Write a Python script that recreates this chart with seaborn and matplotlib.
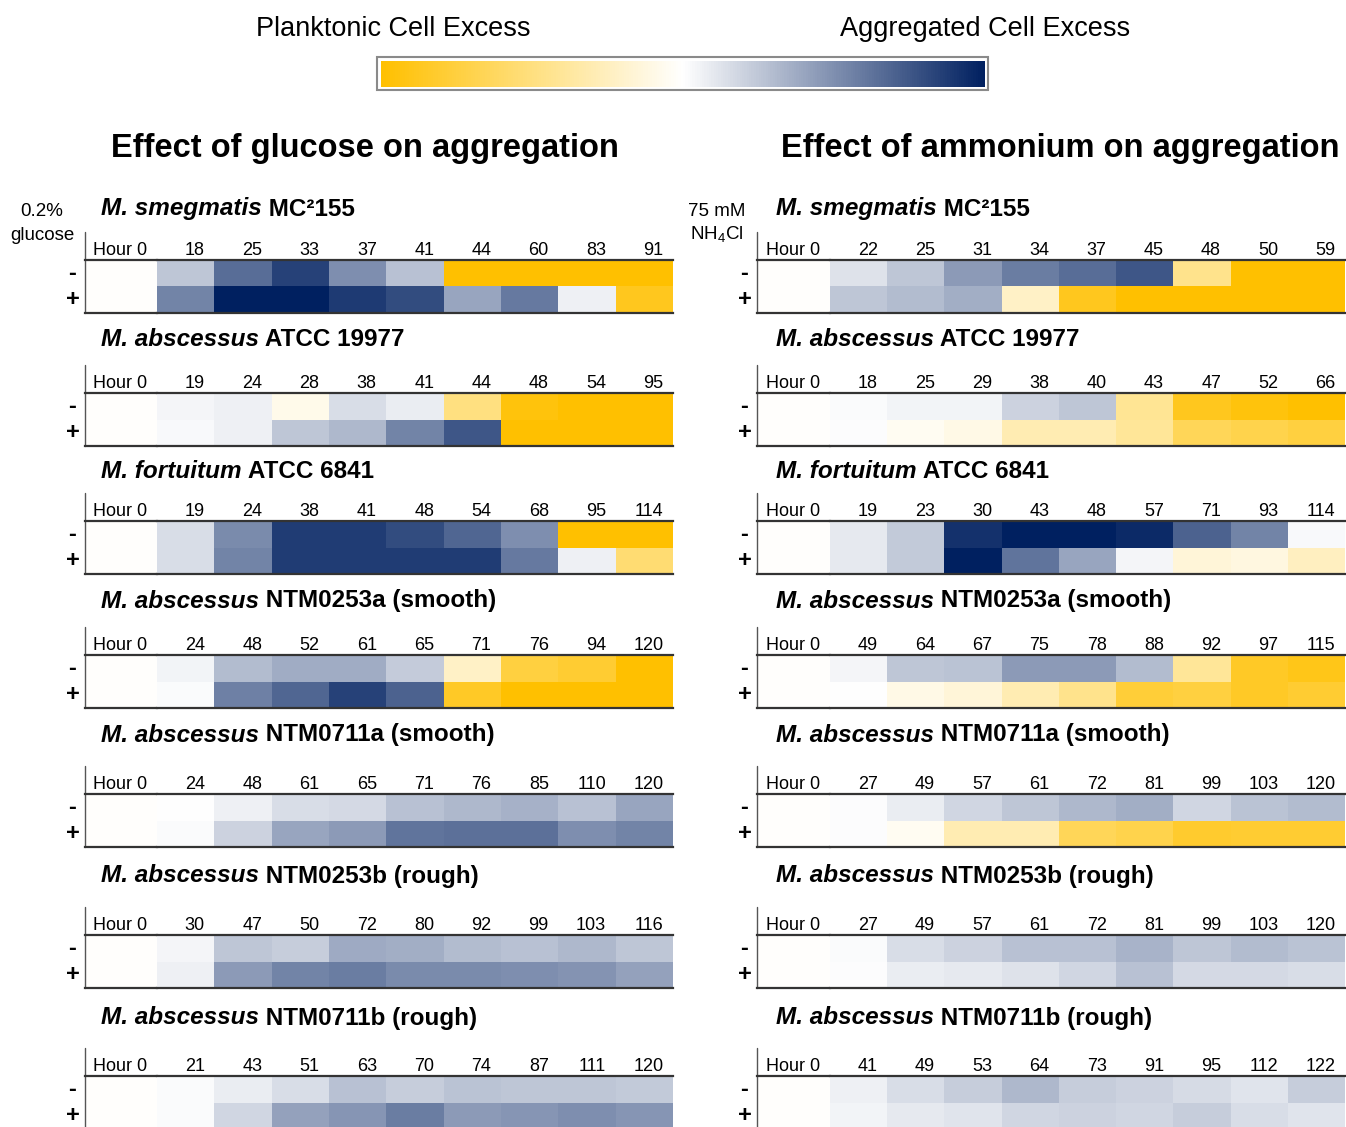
import numpy as np
import pandas as pd
import matplotlib
matplotlib.use("Agg")
import matplotlib.pyplot as plt
import seaborn as sns
from matplotlib.colors import LinearSegmentedColormap
from matplotlib.patches import Rectangle

sns.set_style("white")
plt.rcParams['font.family'] = ['Liberation Sans', 'DejaVu Sans']
plt.rcParams['mathtext.fontset'] = 'custom'
plt.rcParams['mathtext.rm'] = 'Liberation Sans'
plt.rcParams['text.color'] = 'black'
plt.rcParams['xtick.color'] = 'black'
plt.rcParams['ytick.color'] = 'black'
plt.rcParams['xtick.labelcolor'] = 'black'
plt.rcParams['ytick.labelcolor'] = 'black'

# ---------------- data ----------------
# values: -1 = planktonic cell excess (yellow), +1 = aggregated cell excess (navy)
row_labels = ["-", "+"]

g_smeg_hours = [0, 18, 25, 33, 37, 41, 44, 60, 83, 91]
g_smeg_minus = [-0.01, 0.25, 0.65, 0.85, 0.50, 0.28, -1, -1, -1, -1]
g_smeg_plus = [-0.01, 0.55, 1.0, 1.0, 0.88, 0.80, 0.40, 0.60, 0.07, -0.88]

g_atcc_hours = [0, 19, 24, 28, 38, 41, 44, 48, 54, 95]
g_atcc_minus = [-0.01, 0.04, 0.07, -0.08, 0.15, 0.08, -0.50, -0.95, -1, -1]
g_atcc_plus = [-0.01, 0.03, 0.07, 0.25, 0.32, 0.55, 0.75, -1, -1, -1]

g_fort_hours = [0, 19, 24, 38, 41, 48, 54, 68, 95, 114]
g_fort_minus = [-0.01, 0.15, 0.52, 0.87, 0.87, 0.80, 0.68, 0.50, -1, -1]
g_fort_plus = [-0.01, 0.15, 0.55, 0.87, 0.87, 0.87, 0.87, 0.60, 0.07, -0.55]

g_253a_hours = [0, 24, 48, 52, 61, 65, 71, 76, 94, 120]
g_253a_minus = [-0.01, 0.05, 0.30, 0.37, 0.37, 0.23, -0.22, -0.75, -0.80, -1]
g_253a_plus = [-0.01, 0.02, 0.57, 0.68, 0.85, 0.70, -0.85, -1, -1, -1]

g_711a_hours = [0, 24, 48, 61, 65, 71, 76, 85, 110, 120]
g_711a_minus = [-0.01, 0.0, 0.07, 0.15, 0.17, 0.28, 0.32, 0.35, 0.28, 0.40]
g_711a_plus = [-0.01, 0.02, 0.20, 0.40, 0.45, 0.62, 0.64, 0.64, 0.50, 0.55]

g_253b_hours = [0, 30, 47, 50, 72, 80, 92, 99, 103, 116]
g_253b_minus = [-0.01, 0.04, 0.25, 0.22, 0.38, 0.36, 0.30, 0.28, 0.32, 0.25]
g_253b_plus = [-0.01, 0.07, 0.45, 0.55, 0.58, 0.52, 0.52, 0.50, 0.48, 0.42]

g_711b_hours = [0, 21, 43, 51, 63, 70, 74, 87, 111, 120]
g_711b_minus = [-0.01, 0.02, 0.08, 0.15, 0.28, 0.22, 0.27, 0.25, 0.25, 0.24]
g_711b_plus = [-0.01, 0.02, 0.18, 0.42, 0.47, 0.58, 0.45, 0.47, 0.50, 0.47]

a_smeg_hours = [0, 22, 25, 31, 34, 37, 45, 48, 50, 59]
a_smeg_minus = [-0.01, 0.13, 0.25, 0.45, 0.58, 0.65, 0.75, -0.45, -1, -1]
a_smeg_plus = [-0.01, 0.25, 0.30, 0.36, -0.22, -0.88, -1, -1, -1, -1]

a_atcc_hours = [0, 18, 25, 29, 38, 40, 43, 47, 52, 66]
a_atcc_minus = [-0.01, 0.02, 0.05, 0.05, 0.20, 0.25, -0.42, -0.88, -0.95, -1]
a_atcc_plus = [-0.01, 0.01, -0.05, -0.10, -0.30, -0.30, -0.40, -0.65, -0.70, -0.75]

a_fort_hours = [0, 19, 23, 30, 43, 48, 57, 71, 93, 114]
a_fort_minus = [-0.01, 0.10, 0.24, 0.92, 1.0, 1.0, 0.95, 0.70, 0.55, 0.03]
a_fort_plus = [-0.01, 0.10, 0.24, 1.0, 0.62, 0.40, 0.04, -0.15, -0.12, -0.25]

a_253a_hours = [0, 49, 64, 67, 75, 78, 88, 92, 97, 115]
a_253a_minus = [-0.01, 0.04, 0.25, 0.27, 0.45, 0.45, 0.30, -0.40, -0.85, -0.90]
a_253a_plus = [-0.01, 0.0, -0.10, -0.15, -0.30, -0.45, -0.78, -0.75, -0.85, -0.80]

a_711a_hours = [0, 27, 49, 57, 61, 72, 81, 99, 103, 120]
a_711a_minus = [-0.01, 0.01, 0.08, 0.18, 0.25, 0.32, 0.36, 0.18, 0.27, 0.30]
a_711a_plus = [-0.01, 0.01, -0.05, -0.30, -0.30, -0.65, -0.70, -0.82, -0.80, -0.80]

a_253b_hours = [0, 27, 49, 57, 61, 72, 81, 99, 103, 120]
a_253b_minus = [-0.01, 0.02, 0.15, 0.20, 0.28, 0.28, 0.34, 0.25, 0.30, 0.27]
a_253b_plus = [-0.01, 0.01, 0.08, 0.10, 0.13, 0.18, 0.28, 0.17, 0.17, 0.15]

a_711b_hours = [0, 41, 49, 53, 64, 73, 91, 95, 112, 122]
a_711b_minus = [-0.01, 0.07, 0.15, 0.22, 0.32, 0.22, 0.20, 0.16, 0.12, 0.22]
a_711b_plus = [-0.01, 0.05, 0.10, 0.12, 0.18, 0.20, 0.18, 0.22, 0.15, 0.12]

strain_species = ["M. smegmatis", "M. abscessus", "M. fortuitum", "M. abscessus",
                  "M. abscessus", "M. abscessus", "M. abscessus"]
strain_rest = [" MC\u00b2155", " ATCC 19977", " ATCC 6841", " NTM0253a (smooth)",
               " NTM0711a (smooth)", " NTM0253b (rough)", " NTM0711b (rough)"]

glucose_data = [(g_smeg_hours, g_smeg_minus, g_smeg_plus),
                (g_atcc_hours, g_atcc_minus, g_atcc_plus),
                (g_fort_hours, g_fort_minus, g_fort_plus),
                (g_253a_hours, g_253a_minus, g_253a_plus),
                (g_711a_hours, g_711a_minus, g_711a_plus),
                (g_253b_hours, g_253b_minus, g_253b_plus),
                (g_711b_hours, g_711b_minus, g_711b_plus)]
ammonium_data = [(a_smeg_hours, a_smeg_minus, a_smeg_plus),
                 (a_atcc_hours, a_atcc_minus, a_atcc_plus),
                 (a_fort_hours, a_fort_minus, a_fort_plus),
                 (a_253a_hours, a_253a_minus, a_253a_plus),
                 (a_711a_hours, a_711a_minus, a_711a_plus),
                 (a_253b_hours, a_253b_minus, a_253b_plus),
                 (a_711b_hours, a_711b_minus, a_711b_plus)]

# ---------------- layout ----------------
W, H = 1346, 1127
fig = plt.figure(figsize=(W / 100, H / 100), dpi=100)


def fx(px):
    return px / W


def fy(py):
    return 1 - py / H


cmap = LinearSegmentedColormap.from_list("agg", ["#FFC000", "#FFFFFF", "#002060"])

cell_tops = [260, 393, 521, 655, 794, 935, 1076]
title_ys = [209, 340, 471, 601, 735, 876, 1018]
cell_h = 53
# (axis left, end of first wide column, right end)
col_x = [(85, 157, 673), (757, 830, 1345)]
title_x = [101, 776]
label_gap = 9.5  # px between tick label right edge and cell right edge

first_mesh = None


def style_axes(ax):
    ax.set_xlabel("")
    ax.set_ylabel("")
    for s in ['top', 'bottom']:
        ax.spines[s].set_visible(True)
        ax.spines[s].set_color('#333333')
        ax.spines[s].set_linewidth(1.6)


for side, panels in enumerate([glucose_data, ammonium_data]):
    x0, xm, x1 = col_x[side]
    for k, (hours, minus, plus) in enumerate(panels):
        top = cell_tops[k]
        labels = ["Hour 0"] + [str(h) for h in hours[1:]]
        df = pd.DataFrame([minus, plus], index=row_labels, columns=labels)

        # first (wider) column
        ax0 = fig.add_axes([fx(x0), fy(top + cell_h), (xm - x0) / W, cell_h / H])
        sns.heatmap(df.iloc[:, :1], ax=ax0, cmap=cmap, vmin=-1, vmax=1, cbar=False,
                    xticklabels=True, yticklabels=True)
        ax0.xaxis.tick_top()
        ax0.set_xticks([1 - label_gap / (xm - x0)])
        ax0.set_xticklabels(labels[:1], ha='right', fontsize=13, rotation=0)
        ax0.tick_params(axis='x', length=0, pad=0.5)
        ax0.set_yticks(np.arange(2) + 0.5)
        ax0.set_yticklabels(row_labels, rotation=0, fontsize=17,
                            fontweight='bold', ha='center', va='center')
        ax0.tick_params(axis='y', length=0, pad=9)
        style_axes(ax0)
        ax0.plot([0, 0], [0, 1 + 28 / cell_h], transform=ax0.transAxes,
                 color='#555555', lw=1.0, clip_on=False)

        # remaining columns
        ax1 = fig.add_axes([fx(xm), fy(top + cell_h), (x1 - xm) / W, cell_h / H])
        sns.heatmap(df.iloc[:, 1:], ax=ax1, cmap=cmap, vmin=-1, vmax=1, cbar=False,
                    xticklabels=True, yticklabels=False)
        if first_mesh is None:
            first_mesh = ax1.collections[0]
        ncol = len(labels) - 1
        cw = (x1 - xm) / ncol
        ax1.xaxis.tick_top()
        ax1.set_xticks(np.arange(ncol) + 1 - label_gap / cw)
        ax1.set_xticklabels(labels[1:], ha='right', fontsize=13, rotation=0)
        ax1.tick_params(axis='x', length=0, pad=0.5)
        ax1.set_yticks([])
        style_axes(ax1)

        t1 = fig.text(fx(title_x[side]), fy(title_ys[k]), strain_species[k],
                      style='italic', weight='bold', fontsize=17.5, va='center', ha='left')
        ax0.annotate(strain_rest[k], xy=(1, 0), xycoords=t1, va='bottom', ha='left',
                     weight='bold', fontsize=17.5, annotation_clip=False)

# side condition labels
fig.text(fx(42), fy(212), "0.2%", ha='center', va='center', fontsize=13.5)
fig.text(fx(42), fy(235), "glucose", ha='center', va='center', fontsize=13.5)
fig.text(fx(717), fy(212), "75 mM", ha='center', va='center', fontsize=13.5)
fig.text(fx(717), fy(235), "NH$_4$Cl", ha='center', va='center', fontsize=13.5)

# main titles
fig.text(fx(365), fy(148), "Effect of glucose on aggregation", ha='center', va='center',
         fontsize=23.5, weight='bold')
fig.text(fx(1060), fy(148), "Effect of ammonium on aggregation", ha='center', va='center',
         fontsize=23.5, weight='bold')

# colour bar
cax = fig.add_axes([fx(381), fy(87), 604 / W, 26 / H])
cb = fig.colorbar(first_mesh, cax=cax, orientation='horizontal')
cb.set_ticks([])
cb.outline.set_visible(False)
fig.add_artist(Rectangle((fx(377), fy(90)), 611 / W, 33 / H, transform=fig.transFigure,
                         fill=False, edgecolor='#8a8a8a', lw=1.5))
fig.text(fx(393), fy(29), "Planktonic Cell Excess", ha='center', va='center', fontsize=19.5)
fig.text(fx(985), fy(29), "Aggregated Cell Excess", ha='center', va='center', fontsize=19.5)

fig.savefig("out.png", dpi=100)
